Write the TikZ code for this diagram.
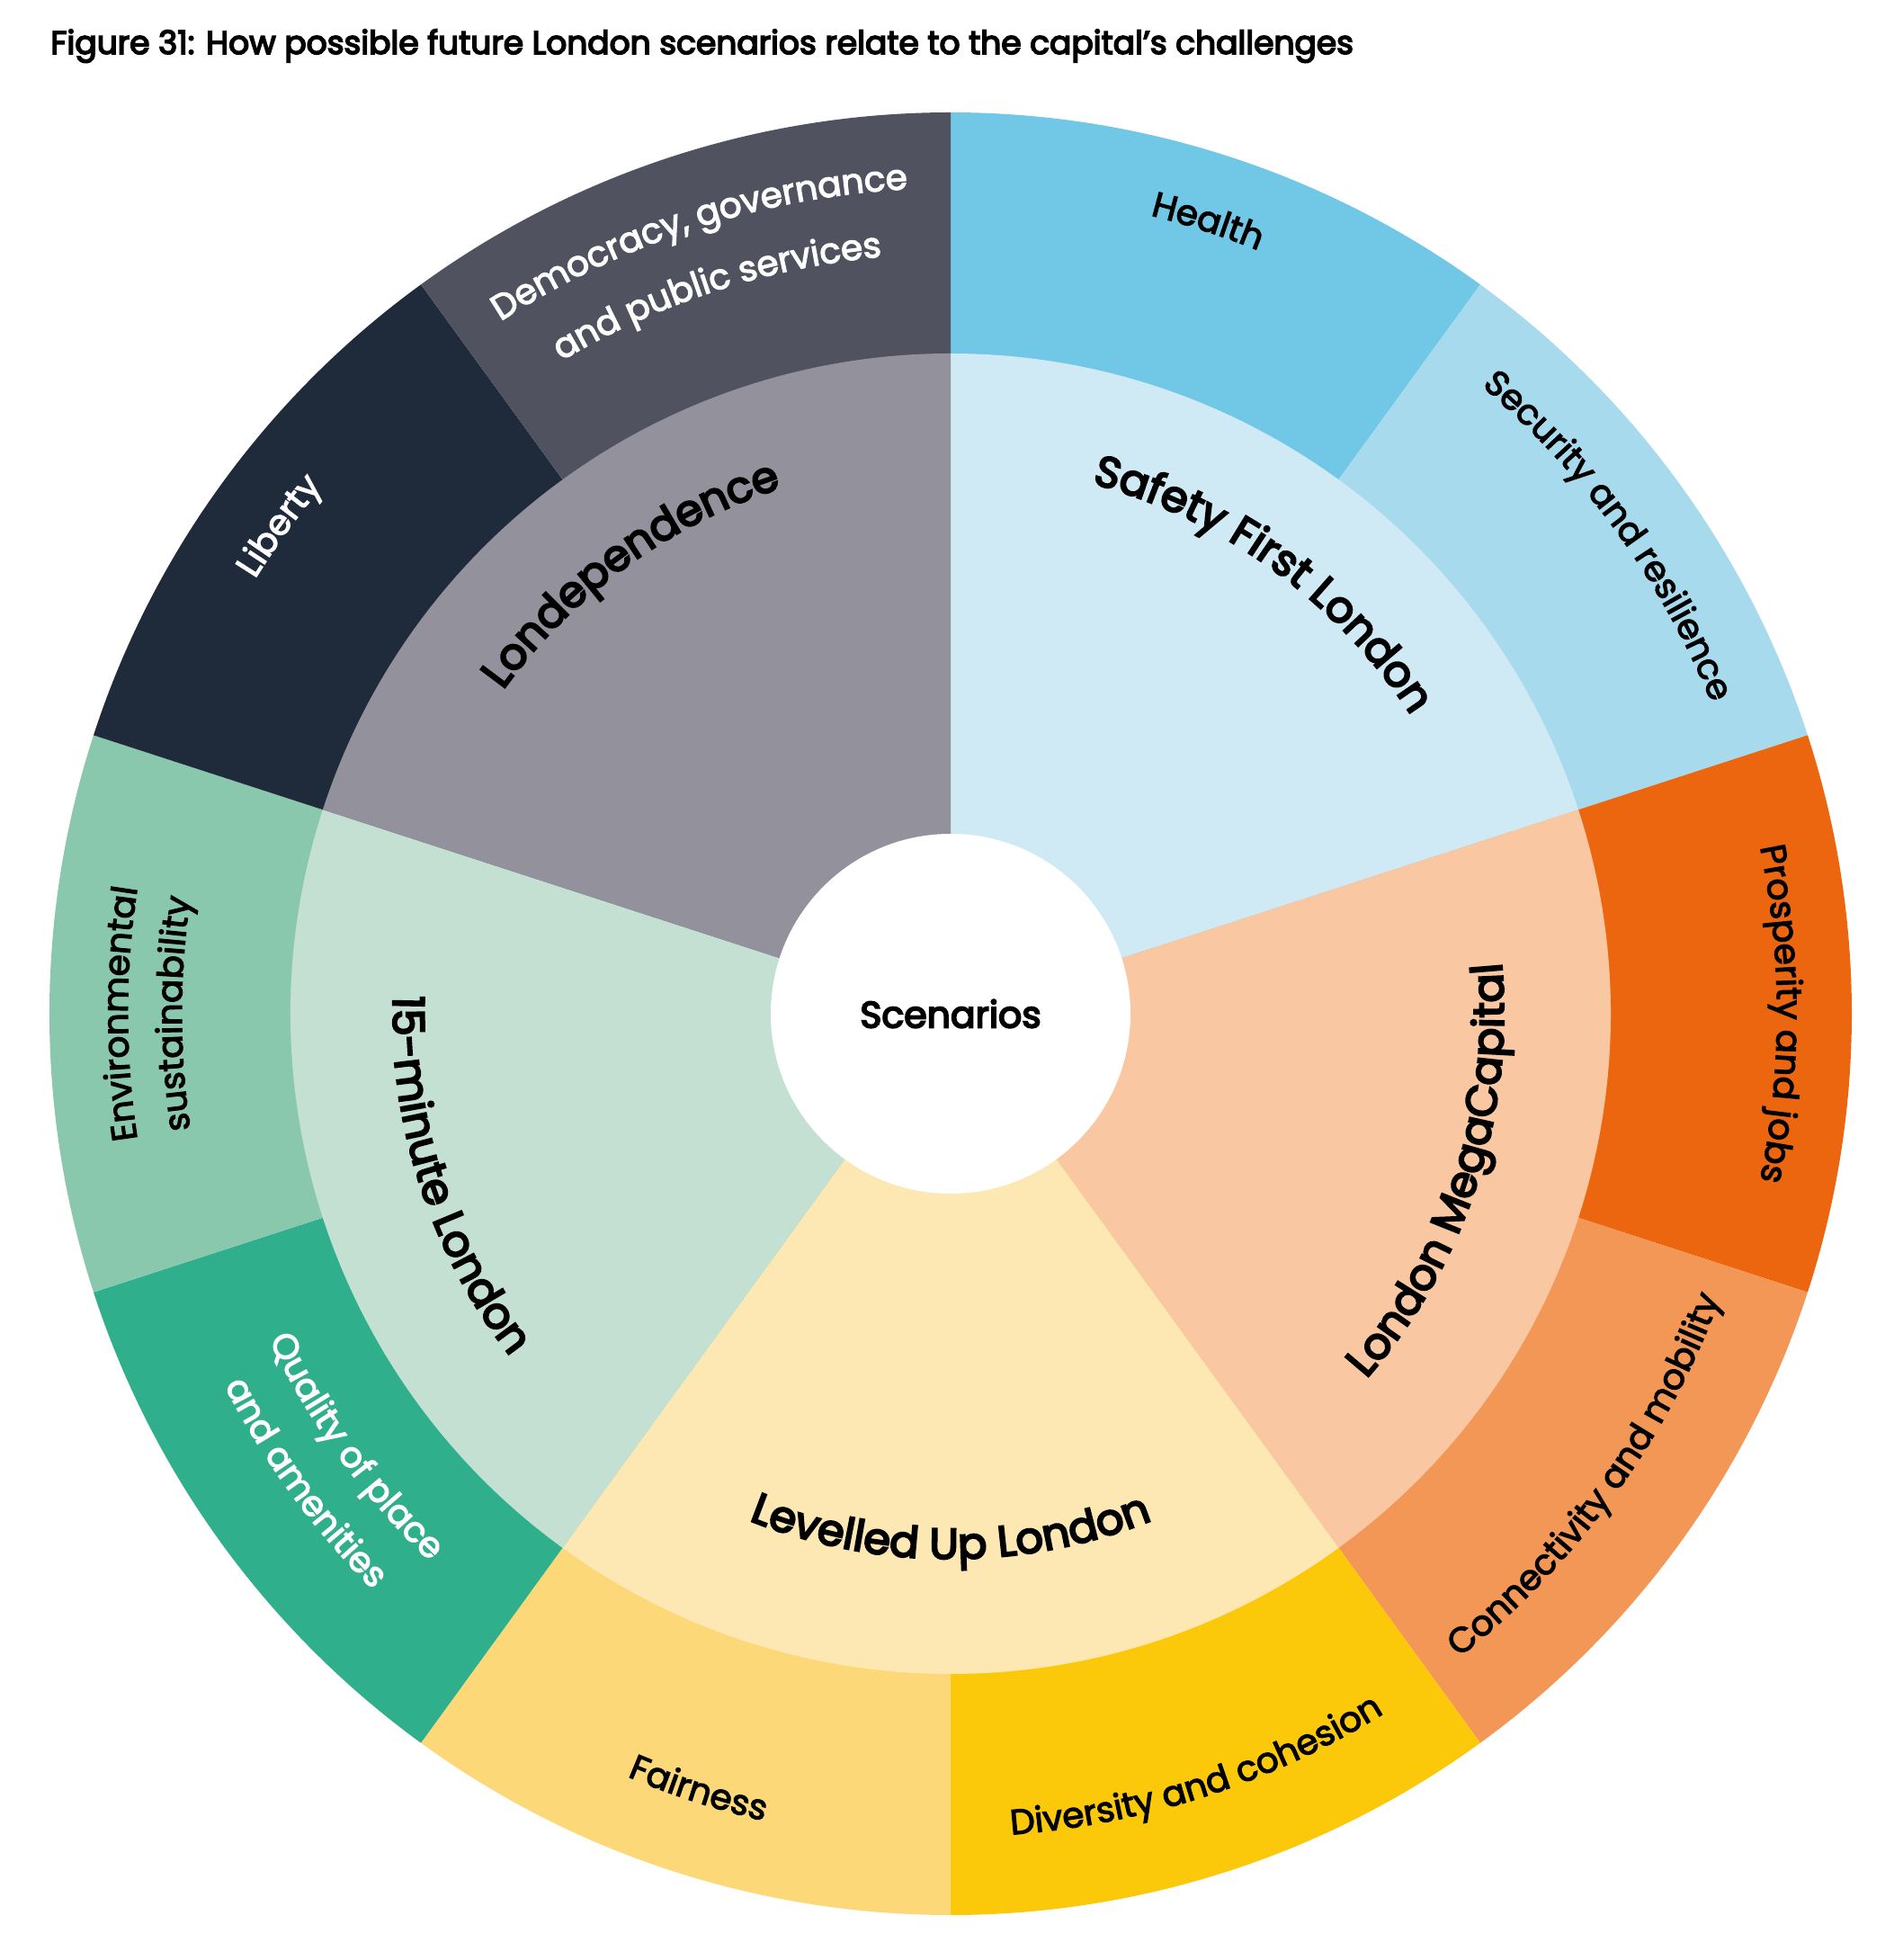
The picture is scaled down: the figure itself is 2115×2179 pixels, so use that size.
\documentclass[tikz,border=0pt]{standalone}
\usepackage{fontspec}
\setmainfont{Poppins}
\newfontfamily\medfont{Poppins}[FakeBold=3]
\newfontfamily\semifont{Poppins}[FakeBold=4.5]
\usetikzlibrary{decorations.text}
\definecolor{cLondep}{HTML}{93929C}
\definecolor{cDemo}{HTML}{50535F}
\definecolor{cLib}{HTML}{1F2A3B}
\definecolor{cSafe}{HTML}{CFE9F5}
\definecolor{cHealth}{HTML}{70C7E6}
\definecolor{cSec}{HTML}{A8DAEE}
\definecolor{cMega}{HTML}{F9C7A1}
\definecolor{cPros}{HTML}{EC6610}
\definecolor{cConn}{HTML}{F39757}
\definecolor{cLev}{HTML}{FDE8B3}
\definecolor{cFair}{HTML}{FDD878}
\definecolor{cDiv}{HTML}{FCC90A}
\definecolor{cFift}{HTML}{C3E0D3}
\definecolor{cEnv}{HTML}{8AC8AD}
\definecolor{cQual}{HTML}{30AF8C}
\newcommand\outerfont{\medfont\fontsize{19.5}{23}\selectfont}
\newcommand\midfont{\semifont\fontsize{24}{28}\selectfont}
% pie slice: colour, radius, from angle, to angle
\newcommand\pieslice[4]{\fill[#1] (0,0) -- (#3:#2) arc[start angle=#3, end angle=#4, radius=#2] -- cycle;}
% text on arc: colour, radius, start angle, end angle, text
\newcommand\arctext[5]{\path[decorate, decoration={text along path, text align=center, text color=#1, text={#5}}] (#3:#2) arc[start angle=#3, end angle=#4, radius=#2];}
\begin{document}
\begin{tikzpicture}[x=0.5pt, y=0.5pt]
\useasboundingbox (-1057,-1052) rectangle (1058,1127);
\fill[white] (-1057,-1052) rectangle (1058,1127);
% outer ring
\pieslice{cHealth}{1002}{54}{90}
\pieslice{cSec}{1002}{18}{54}
\pieslice{cPros}{1002}{-18}{18}
\pieslice{cConn}{1002}{-54}{-18}
\pieslice{cDiv}{1002}{-90}{-54}
\pieslice{cFair}{1002}{-126}{-90}
\pieslice{cQual}{1002}{-162}{-126}
\pieslice{cEnv}{1002}{162}{198}
\pieslice{cLib}{1002}{126}{162}
\pieslice{cDemo}{1002}{90}{126}
% middle ring
\pieslice{cSafe}{734}{18}{90}
\pieslice{cMega}{734}{-54}{18}
\pieslice{cLev}{734}{-126}{-54}
\pieslice{cFift}{734}{162}{234}
\pieslice{cLondep}{734}{90}{162}
% centre
\fill[white] (0,0) circle[radius=200];
\node[font=\semifont\fontsize{20.5}{24}\selectfont] (scen) at (0,0) {Scenarios};
% title
\node[anchor=base west, inner sep=0pt, font=\semifont\fontsize{18}{22}\selectfont] (title) at (-1001,1067) {Figure 31: How possible future London scenarios relate to the capital’s challenges};
% middle labels
\arctext{black}{610}{99}{9}{|\midfont|Safety First London}
\arctext{black}{614}{171}{81}{|\midfont|Londependence}
\arctext{black}{615}{-63}{27}{|\midfont|London MegaCapital}
\arctext{black}{606}{-135}{-45}{|\midfont|Levelled Up London}
\arctext{black}{620}{153}{243}{|\midfont|15-minute London}
% outer labels (top half, clockwise)
\arctext{black}{915}{107}{37}{|\outerfont|Health}
\arctext{black}{914}{71}{1}{|\outerfont|Security and resilience}
\arctext{black}{919}{35}{-35}{|\outerfont|Prosperity and jobs}
\arctext{white}{912}{179}{109}{|\outerfont|Liberty}
\arctext{white}{918}{143}{73}{|\outerfont|Democracy, governance}
\arctext{white}{845}{143}{73}{|\outerfont|and public services}
\arctext{black}{915}{215}{145}{|\outerfont|Environmental}
\arctext{black}{855}{215}{145}{|\outerfont|sustainability}
% outer labels (bottom half, counter-clockwise)
\arctext{black}{912}{-71}{-1}{|\outerfont|Connectivity and mobility}
\arctext{black}{915}{-107}{-37}{|\outerfont|Diversity and cohesion}
\arctext{black}{921}{-143}{-73}{|\outerfont|Fairness}
\arctext{white}{840}{181}{251}{|\outerfont|Quality of place}
\arctext{white}{907}{181}{251}{|\outerfont|and amenities}
\end{tikzpicture}
\end{document}
